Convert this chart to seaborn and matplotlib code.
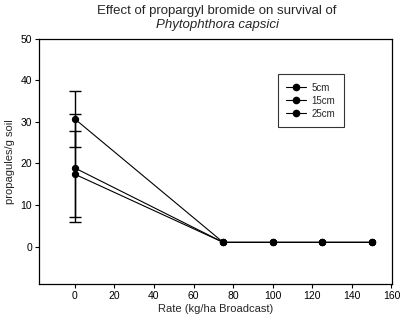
import matplotlib
matplotlib.use("Agg")
import matplotlib.pyplot as plt
import seaborn as sns
import pandas as pd
from matplotlib.lines import Line2D

rates = [0, 75, 100, 125, 150]
depths = ["5cm", "15cm", "25cm"]
v5 = [30.7, 1.0, 1.0, 1.0, 1.0]
v15 = [18.9, 1.0, 1.0, 1.0, 1.0]
v25 = [17.4, 1.0, 1.0, 1.0, 1.0]
err5 = [6.8, 0, 0, 0, 0]
err15 = [13.1, 0, 0, 0, 0]
err25 = [10.3, 0, 0, 0, 0]

rows = []
for d, vals, errs in zip(depths, [v5, v15, v25], [err5, err15, err25]):
    for r, v, e in zip(rates, vals, errs):
        rows.append({"rate": r, "val": v, "err": e, "depth": d})
df = pd.DataFrame(rows)

sns.set_style("ticks")
plt.rcParams['font.family'] = ['Liberation Sans', 'DejaVu Sans']

fig = plt.figure(figsize=(4.0, 3.23), dpi=100)
ax = fig.add_axes([0.098, 0.121, 0.882, 0.759])

sns.lineplot(data=df, x="rate", y="val", hue="depth", palette=["black"] * 3,
             marker="o", markersize=4.5, markeredgecolor="black", linewidth=0.8,
             legend=False, ax=ax)
for d in depths:
    sub = df[(df.depth == d) & (df.err > 0)]
    ax.errorbar(sub["rate"], sub["val"], yerr=sub["err"], fmt="none",
                ecolor="black", elinewidth=1.0, capsize=4, capthick=1.0)

ax.set_xlim(-18, 160.3)
ax.set_ylim(-9, 50)
ax.set_xticks(range(0, 161, 20))
ax.set_yticks(range(0, 51, 10))
ax.tick_params(axis="both", direction="out", length=3, width=0.8, labelsize=7.5,
               colors="black", pad=2)
for s in ax.spines.values():
    s.set_linewidth(0.9)
    s.set_color("black")
ax.set_xlabel("Rate (kg/ha Broadcast)", fontsize=8, labelpad=2)
ax.set_ylabel("propagules/g soil", fontsize=8, labelpad=4)

fig.text(0.543, 0.985, "Effect of propargyl bromide on survival of",
         ha="center", va="top", fontsize=9.5)
fig.text(0.543, 0.942, "Phytophthora capsici", ha="center", va="top",
         fontsize=9.5, style="italic")

handles = [Line2D([0], [0], color="black", marker="o", markersize=4.5,
                  linewidth=0.8) for _ in depths]
leg = ax.legend(handles, depths, loc="upper left", bbox_to_anchor=(0.676, 0.856),
                fontsize=7, frameon=True, fancybox=False, edgecolor="black",
                handlelength=2.0, handletextpad=0.6, labelspacing=0.3,
                borderpad=0.9, borderaxespad=0)
leg.get_frame().set_linewidth(0.8)

fig.savefig("out.png", dpi=100)
